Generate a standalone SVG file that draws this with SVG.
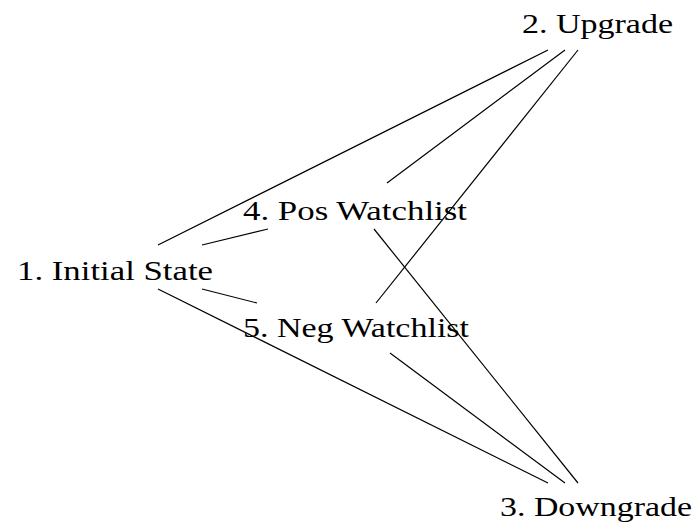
<svg xmlns="http://www.w3.org/2000/svg" width="700" height="532" viewBox="0 0 700 532">
<style>
.lbl{font-family:"Liberation Serif","DejaVu Serif",serif;font-size:28px;fill:#000}
.e{stroke:#000;stroke-width:1.2;fill:none}
</style>
<rect width="700" height="532" fill="#fff"/>
<g id="connectors">
<line class="e" x1="158" y1="245" x2="548" y2="50"/>
<line class="e" x1="158" y1="289" x2="548" y2="483"/>
<line class="e" x1="202" y1="245" x2="268" y2="229"/>
<line class="e" x1="202" y1="289" x2="257" y2="303"/>
<line class="e" x1="387" y1="183" x2="565" y2="50"/>
<line class="e" x1="376" y1="303" x2="578" y2="50"/>
<line class="e" x1="374" y1="229" x2="578" y2="483"/>
<line class="e" x1="390" y1="353" x2="565" y2="483"/>
</g>
<g id="n1"><text class="lbl" x="17" y="280" textLength="196" lengthAdjust="spacingAndGlyphs">1. Initial State</text></g>
<g id="n2"><text class="lbl" x="522" y="33" textLength="151" lengthAdjust="spacingAndGlyphs">2. Upgrade</text></g>
<g id="n3"><text class="lbl" x="500" y="516" textLength="192" lengthAdjust="spacingAndGlyphs">3. Downgrade</text></g>
<g id="n4"><text class="lbl" x="243" y="220" textLength="224" lengthAdjust="spacingAndGlyphs">4. Pos Watchlist</text></g>
<g id="n5"><text class="lbl" x="243" y="337" textLength="226" lengthAdjust="spacingAndGlyphs">5. Neg Watchlist</text></g>
</svg>
